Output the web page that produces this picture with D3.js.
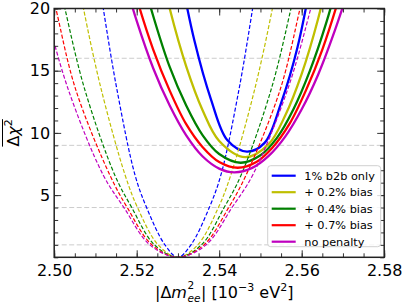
<!DOCTYPE html>
<html>
<head>
<meta charset="utf-8">
<script src="https://cdn.jsdelivr.net/npm/d3@7"></script>
<style>
body { margin: 0; background: #fff; }
text { font-family: "DejaVu Sans", sans-serif; }
</style>
</head>
<body>
<svg id="chart" width="407" height="305"></svg>
<script>
// values: [|dm2_ee|, delta chi2]
var names = ["1% b2b only", "+ 0.2% bias", "+ 0.4% bias", "+ 0.7% bias", "no penalty"];
var colors = ["#0000ff", "#bfbf00", "#008000", "#ff0000", "#bf00bf"];

// solid curves (with penalty)
var solidBlue = [[2.530,23.8],[2.534,17.4],[2.538,12.7],[2.542,9.4],[2.5467,8.5],[2.551,9.2],[2.555,12.4],[2.559,16.9],[2.563,23.6]];
var solidYellow = [[2.524,25.8],[2.528,20.0],[2.532,15.35],[2.536,11.8],[2.540,9.35],[2.5463,8.05],[2.552,9.1],[2.556,11.4],[2.560,14.75],[2.564,19.2],[2.568,24.9]];
var solidGreen = [[2.520,24.2],[2.524,19.4],[2.528,15.3],[2.532,12.2],[2.536,9.8],[2.540,8.3],[2.5452,7.6],[2.550,8.2],[2.554,9.6],[2.558,11.9],[2.562,15.0],[2.566,18.9],[2.570,23.7]];
var solidRed = [[2.516,25.6],[2.520,20.8],[2.524,16.7],[2.528,13.4],[2.532,10.7],[2.536,8.85],[2.540,7.66],[2.5445,7.2],[2.549,7.66],[2.553,8.85],[2.557,10.7],[2.561,13.4],[2.565,16.7],[2.569,20.8],[2.573,25.6]];
var solidMagenta = [[2.516,23.5],[2.520,19.0],[2.524,15.2],[2.528,12.2],[2.532,9.8],[2.536,8.1],[2.540,7.13],[2.5437,6.83],[2.548,7.19],[2.552,8.15],[2.556,9.7],[2.560,11.9],[2.564,14.7],[2.568,18.2],[2.572,22.2]];

// dashed curves (minimum at 2.530)
var dashBlue = [[2.5101,24],[2.5119,20],[2.5152,13.5],[2.5196,6.6],[2.5224,4],[2.52685,1],[2.530,0],[2.53315,1],[2.5376,4],[2.5404,6.6],[2.5448,13.5],[2.5481,20],[2.5499,24]];
var dashYellow = [[2.5049,24],[2.5071,20],[2.5114,13.5],[2.5172,6.6],[2.5202,4],[2.5252,1],[2.530,0],[2.5348,1],[2.5398,4],[2.5428,6.6],[2.5486,13.5],[2.5529,20],[2.5551,24]];
var dashGreen = [[2.500,24],[2.5026,20],[2.5074,13.5],[2.5147,6.6],[2.5188,4],[2.5243,1],[2.530,0],[2.5357,1],[2.5412,4],[2.5453,6.6],[2.5526,13.5],[2.5574,20],[2.560,24]];
var dashRed = [[2.4976,24],[2.5004,20],[2.5052,13.5],[2.5135,6.6],[2.5177,4],[2.5237,1],[2.530,0],[2.5363,1],[2.5423,4],[2.5465,6.6],[2.5548,13.5],[2.5596,20],[2.5624,24]];
var dashMagenta = [[2.4948,24],[2.4978,20],[2.5034,13.5],[2.5119,6.6],[2.5169,4],[2.5232,1],[2.530,0],[2.5368,1],[2.5431,4],[2.5481,6.6],[2.5566,13.5],[2.5622,20],[2.5652,24]];

var solids = [solidBlue, solidYellow, solidGreen, solidRed, solidMagenta];
var dashes = [dashBlue, dashYellow, dashGreen, dashRed, dashMagenta];

var xTicks = [2.50, 2.52, 2.54, 2.56, 2.58];
var yTicks = [5, 10, 15, 20];
var refLevels = [1, 4, 9, 16];

var W = 407, H = 305;
var margin = {top: 8.5, right: 22.8, bottom: 47.7, left: 54.2};

var svg = d3.select("#chart");

var x = d3.scaleLinear().domain([2.50, 2.58]).range([margin.left, W - margin.right]);
var y = d3.scaleLinear().domain([0, 20]).range([H - margin.bottom, margin.top]);

svg.append("defs").append("clipPath").attr("id", "plotclip")
  .append("rect")
  .attr("x", x(2.50)).attr("y", y(20))
  .attr("width", x(2.58) - x(2.50)).attr("height", y(0) - y(20));

// grey reference lines
svg.append("g").selectAll("line")
  .data(refLevels)
  .enter().append("line")
  .attr("x1", x(2.50)).attr("x2", x(2.58))
  .attr("y1", function (d) { return y(d); })
  .attr("y2", function (d) { return y(d); })
  .style("stroke", "#cccccc")
  .style("stroke-width", 1)
  .style("stroke-dasharray", "5,2.5");

var line = d3.line()
  .x(function (d) { return x(d[0]); })
  .y(function (d) { return y(d[1]); })
  .curve(d3.curveCatmullRom.alpha(0.5));

var plot = svg.append("g").attr("clip-path", "url(#plotclip)");
for (var i = 0; i < names.length; i++) {
  plot.append("path")
    .datum(solids[i])
    .attr("d", line)
    .style("fill", "none")
    .style("stroke", colors[i])
    .style("stroke-width", 2.3);
  plot.append("path")
    .datum(dashes[i])
    .attr("d", line)
    .style("fill", "none")
    .style("stroke", colors[i])
    .style("stroke-width", 1.2)
    .style("stroke-dasharray", "4,2");
}

// axes, ticks pointing inward on all four sides
var xMinor = d3.range(2.50, 2.5801, 0.005);
var yMinor = d3.range(0, 20.01, 1);

function addAxis(axis, tx, ty) {
  var g = svg.append("g")
    .attr("transform", "translate(" + tx + "," + ty + ")")
    .call(axis);
  g.select(".domain").remove();
  g.selectAll(".tick line").style("stroke", "#333").style("stroke-width", 1);
  g.selectAll("text").style("font-size", "16px").style("fill", "#000")
    .style("font-family", "DejaVu Sans, sans-serif");
  return g;
}

var bottomY = y(0), topY = y(20), leftX = x(2.50), rightX = x(2.58);

addAxis(d3.axisBottom(x).tickValues(xMinor).tickSize(-4).tickFormat(""), 0, bottomY);
addAxis(d3.axisBottom(x).tickValues(xTicks).tickSize(-7).tickPadding(7.5).tickFormat(d3.format(".2f")), 0, bottomY);
addAxis(d3.axisTop(x).tickValues(xMinor).tickSize(-4).tickFormat(""), 0, topY);
addAxis(d3.axisTop(x).tickValues(xTicks).tickSize(-7).tickFormat(""), 0, topY);
addAxis(d3.axisLeft(y).tickValues(yMinor).tickSize(-4).tickFormat(""), leftX, 0);
addAxis(d3.axisLeft(y).tickValues(yTicks).tickSize(-7).tickPadding(4).tickFormat(d3.format("d")), leftX, 0);
addAxis(d3.axisRight(y).tickValues(yMinor).tickSize(-4).tickFormat(""), rightX, 0);
addAxis(d3.axisRight(y).tickValues(yTicks).tickSize(-7).tickFormat(""), rightX, 0);

svg.append("rect")
  .attr("x", leftX).attr("y", topY)
  .attr("width", rightX - leftX).attr("height", bottomY - topY)
  .style("fill", "none")
  .style("stroke", "#222")
  .style("stroke-width", 1.5);

// x label: superscript and subscript are separate texts so they stack like mathtext
var xl = svg.append("text")
  .attr("x", (leftX + rightX) / 2 + 5).attr("y", 297.5)
  .attr("text-anchor", "middle")
  .style("font-size", "16px");
xl.append("tspan").text("|Δ");
var tM = xl.append("tspan").style("font-style", "italic").text("m");
xl.append("tspan").attr("dx", 14).text("| [10");
xl.append("tspan").attr("dy", -7).style("font-size", "11px").text("−3");
xl.append("tspan").attr("dy", 7).text(" eV");
xl.append("tspan").attr("dy", -7).style("font-size", "11px").text("2");
xl.append("tspan").attr("dy", 7).text("]");
var mEnd = tM.node().getEndPositionOfChar(0).x;
svg.append("text").attr("x", mEnd + 0.5).attr("y", 288.5)
  .style("font-size", "10.5px").text("2");
svg.append("text").attr("x", mEnd + 0.5).attr("y", 301.5)
  .style("font-size", "10.5px").style("font-style", "italic").text("ee");

// y label with overline
var yg = svg.append("g").attr("transform", "translate(19," + ((topY + bottomY) / 2) + ") rotate(-90)");
var yl = yg.append("text").attr("text-anchor", "middle").style("font-size", "16px");
yl.append("tspan").text("Δ");
yl.append("tspan").style("font-style", "italic").text("χ");
yl.append("tspan").attr("dy", -7).style("font-size", "11px").text("2");
var bb = yl.node().getBBox();
yg.append("line")
  .attr("x1", bb.x).attr("x2", bb.x + bb.width)
  .attr("y1", -16.5).attr("y2", -16.5)
  .style("stroke", "#000").style("stroke-width", 1);

// legend
var lg = svg.append("g").attr("transform", "translate(267.7,165.7)");
lg.append("rect")
  .attr("width", 113).attr("height", 81).attr("rx", 3)
  .style("fill", "#fff").style("fill-opacity", 0.8)
  .style("stroke", "#d0d0d0").style("stroke-width", 1);
var rows = lg.selectAll("g.row")
  .data(names)
  .enter().append("g")
  .attr("class", "row")
  .attr("transform", function (d, i) { return "translate(0," + (10 + i * 16.5) + ")"; });
rows.append("line")
  .attr("x1", 4).attr("x2", 28)
  .style("stroke", function (d, i) { return colors[i]; })
  .style("stroke-width", 2.2);
rows.append("text")
  .attr("x", 36.6).attr("dy", "0.35em")
  .style("font-size", "11.3px")
  .text(function (d) { return d; });
</script>
</body>
</html>
